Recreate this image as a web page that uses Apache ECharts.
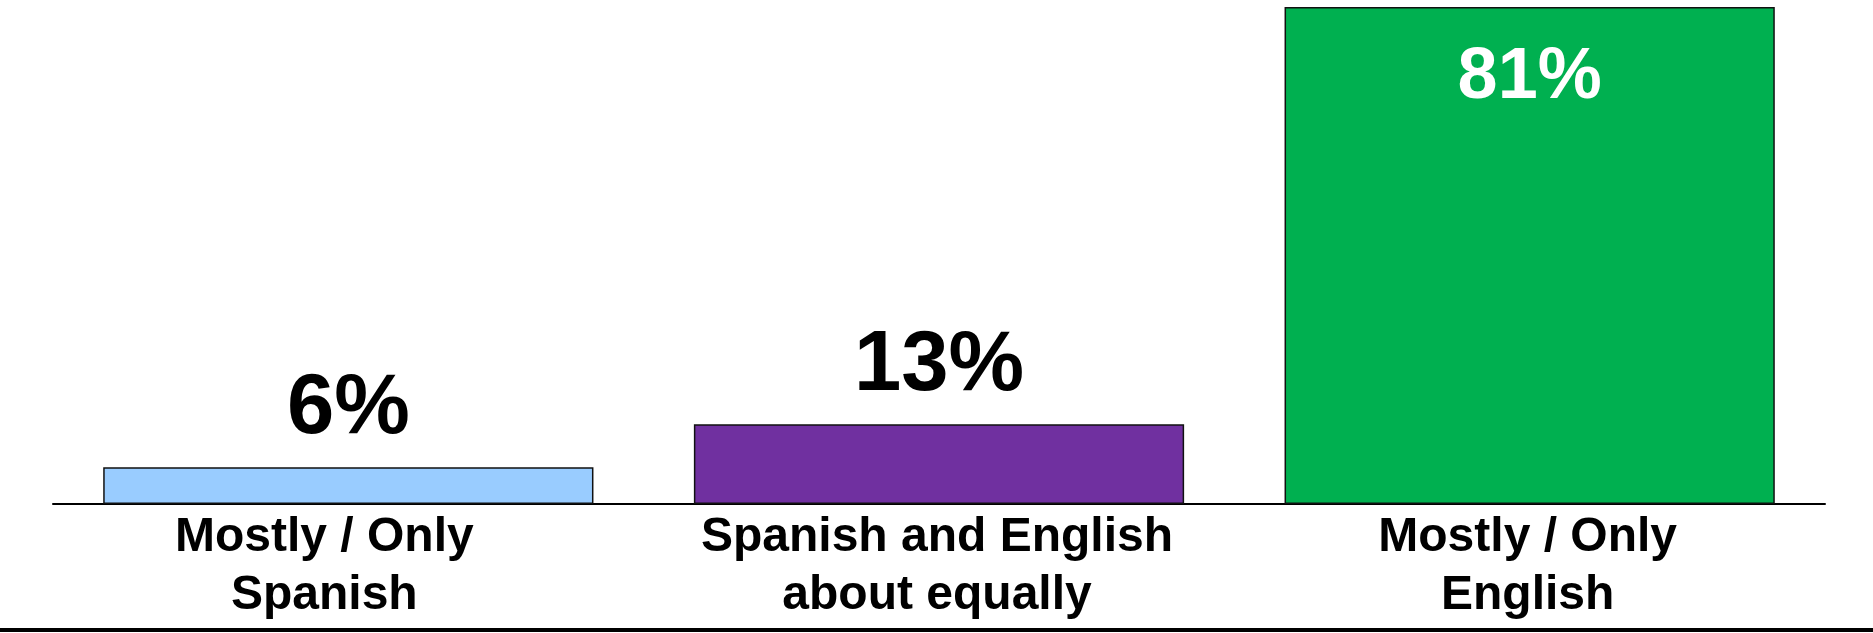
<!DOCTYPE html>
<html>
<head>
<meta charset="utf-8">
<script src="https://cdn.jsdelivr.net/npm/echarts@6/dist/echarts.min.js"></script>
<style>
  html, body { margin: 0; padding: 0; background: #ffffff; }
  #chart { width: 1873px; height: 633px; }
</style>
</head>
<body>
<div id="chart"></div>
<script>
// Data
var categories = ['Mostly / Only\nSpanish', 'Spanish and English\nabout equally', 'Mostly / Only\nEnglish'];
var values = [6, 13, 81];

// Styling
var barColors = ['#99CCFF', '#7030A0', '#00B050'];
var labelPadRight = [48, 4, 4];
var FONT = '"Liberation Sans", Arial, Helvetica, sans-serif';

var chart = echarts.init(document.getElementById('chart'), null, { renderer: 'canvas' });

var seriesData = values.map(function (v, i) {
  var inside = (i === values.length - 1);
  return {
    value: v,
    itemStyle: { color: barColors[i], borderColor: '#111111', borderWidth: 1.5 },
    label: inside ? {
      show: true, position: 'insideTop', distance: 35,
      color: '#ffffff', fontSize: 72, fontWeight: 'bold', fontFamily: FONT
    } : {
      show: true, position: 'top', distance: 15,
      color: '#000000', fontSize: 85, fontWeight: 'bold', fontFamily: FONT
    }
  };
});

var categoryData = categories.map(function (c, i) {
  return { value: c, textStyle: { padding: [0, labelPadRight[i], 0, 0] } };
});

chart.setOption({
  backgroundColor: '#ffffff',
  animation: false,
  grid: { left: 53, right: 48, top: 7, bottom: 129, containLabel: false },
  xAxis: {
    type: 'category',
    data: categoryData,
    axisLine: { show: true, lineStyle: { color: '#000000', width: 2 } },
    axisTick: { show: false },
    axisLabel: {
      interval: 0, margin: 5, color: '#000000', fontSize: 48, fontWeight: 'bold',
      fontFamily: FONT, lineHeight: 58
    }
  },
  yAxis: {
    type: 'value', min: 0, max: 81, show: false,
    splitLine: { show: false }
  },
  series: [{
    type: 'bar',
    data: seriesData,
    barCategoryGap: '17%',
    label: {
      formatter: function (p) { return p.value + '%'; }
    }
  }],
  graphic: [{
    type: 'rect',
    shape: { x: 0, y: 628, width: 1873, height: 4 },
    style: { fill: '#000000' },
    silent: true
  }]
});
</script>
</body>
</html>
